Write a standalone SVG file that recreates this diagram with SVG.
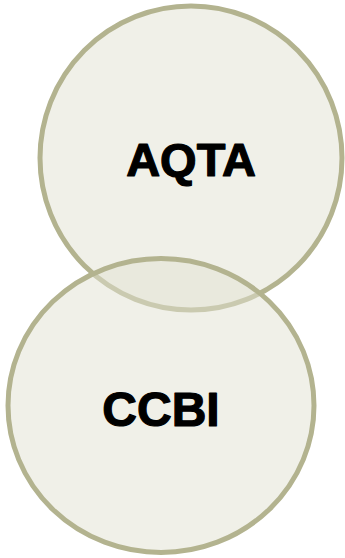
<svg xmlns="http://www.w3.org/2000/svg" width="345" height="558" viewBox="0 0 345 558">
<style>
.c{fill:rgb(225,225,210);fill-opacity:0.5;stroke:#b3b38f;stroke-width:5}
.t{font-family:"Liberation Sans",Arial,sans-serif;font-weight:bold;font-size:47px;fill:#000;stroke:#000;stroke-width:1.2;stroke-linejoin:round;text-anchor:middle}
</style>
<rect width="345" height="558" fill="#fff"/>
<g id="AQTA">
<ellipse class="c" cx="191" cy="158" rx="151" ry="152"/>
<text class="t" x="191" y="176">AQTA</text>
</g>
<g id="CCBI">
<ellipse class="c" cx="161" cy="405.5" rx="153" ry="147"/>
<text class="t" x="161" y="426" style="font-size:48px">CCBI</text>
</g>
<g id="connectors"/>
</svg>
